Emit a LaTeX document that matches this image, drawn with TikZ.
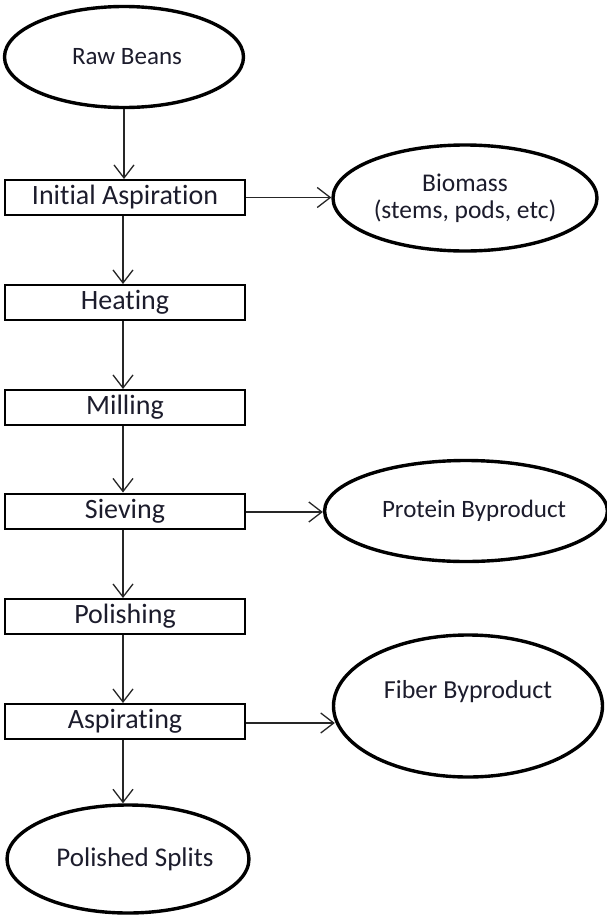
\documentclass[tikz,border=0pt]{standalone}
\usepackage{fontspec}
\setmainfont[Ligatures={NoCommon,NoDiscretionary}]{Carlito}
\usetikzlibrary{arrows.meta,shapes.geometric}
\definecolor{textc}{RGB}{28,28,44}
\begin{document}
\begin{tikzpicture}[x=1pt,y=-1pt,
  boxn/.style={draw=black,line width=2pt,minimum width=240pt,minimum height=35pt,inner sep=0pt,
    font=\fontsize{28}{30}\selectfont,text=textc},
  ell/.style={ellipse,draw=black,line width=3.4pt,inner sep=0pt,text=textc,align=center},
  arr/.style={draw=black!85,line width=1.3pt,-{Straight Barb[length=13pt,width=20pt]}}]
\fill[white] (0,0) rectangle (606,916);
\useasboundingbox (0,0) rectangle (606,916);

% main column boxes
\node[boxn] (ia)   at (125,197.5) {Initial Aspiration};
\node[boxn] (heat) at (125,302.5) {Heating};
\node[boxn] (mill) at (125,407.5) {Milling};
\node[boxn] (siev) at (125,511)   {Sieving};
\node[boxn] (pol)  at (125,616.5) {Polishing};
\node[boxn] (asp)  at (125,721.5) {Aspirating};

% ellipses
\node[ell,minimum width=239pt,minimum height=101pt,font=\fontsize{25}{27}\selectfont] (rb) at (124,57) {\hspace*{6pt}Raw Beans};
\node[ell,minimum width=264pt,minimum height=106pt,font=\fontsize{25.5}{27}\selectfont] (bio) at (465,198) {Biomass\\(stems, pods, etc)};
\node[ell,minimum width=265pt,minimum height=101pt,font=\fontsize{25}{27}\selectfont] (prot) at (466,511) {\hspace*{16pt}Protein Byproduct};
\node[ell,minimum width=269pt,minimum height=142pt,font=\fontsize{26}{28}\selectfont] (fib) at (468,706) {Fiber Byproduct\\[6pt]\mbox{}};
\node[ell,minimum width=239pt,minimum height=108pt,font=\fontsize{27}{29}\selectfont] (ps) at (128,859) {\hspace*{14pt}Polished Splits};

% vertical connectors
\draw[arr] (rb.south) -- (rb.south |- ia.north);
\draw[arr] ([xshift=-2pt]ia.south) -- ([xshift=-2pt]heat.north);
\draw[arr] ([xshift=-2pt]heat.south) -- ([xshift=-2pt]mill.north);
\draw[arr] ([xshift=-2pt]mill.south) -- ([xshift=-2pt]siev.north);
\draw[arr] ([xshift=-2pt]siev.south) -- ([xshift=-2pt]pol.north);
\draw[arr] ([xshift=-2pt]pol.south) -- ([xshift=-2pt]asp.north);
\draw[arr] ([xshift=-2pt]asp.south) -- ([xshift=-2pt]asp.south |- ps.north);

% horizontal connectors
\draw[arr] (ia.east) -- (ia.east -| bio.west);
\draw[arr] ([yshift=-1pt]siev.east) -- ([yshift=-1pt]siev.east -| prot.west);
\draw[arr] ([yshift=-1.5pt]asp.east) -- ([yshift=-1.5pt,xshift=3pt]asp.east -| fib.west);
\end{tikzpicture}
\end{document}
